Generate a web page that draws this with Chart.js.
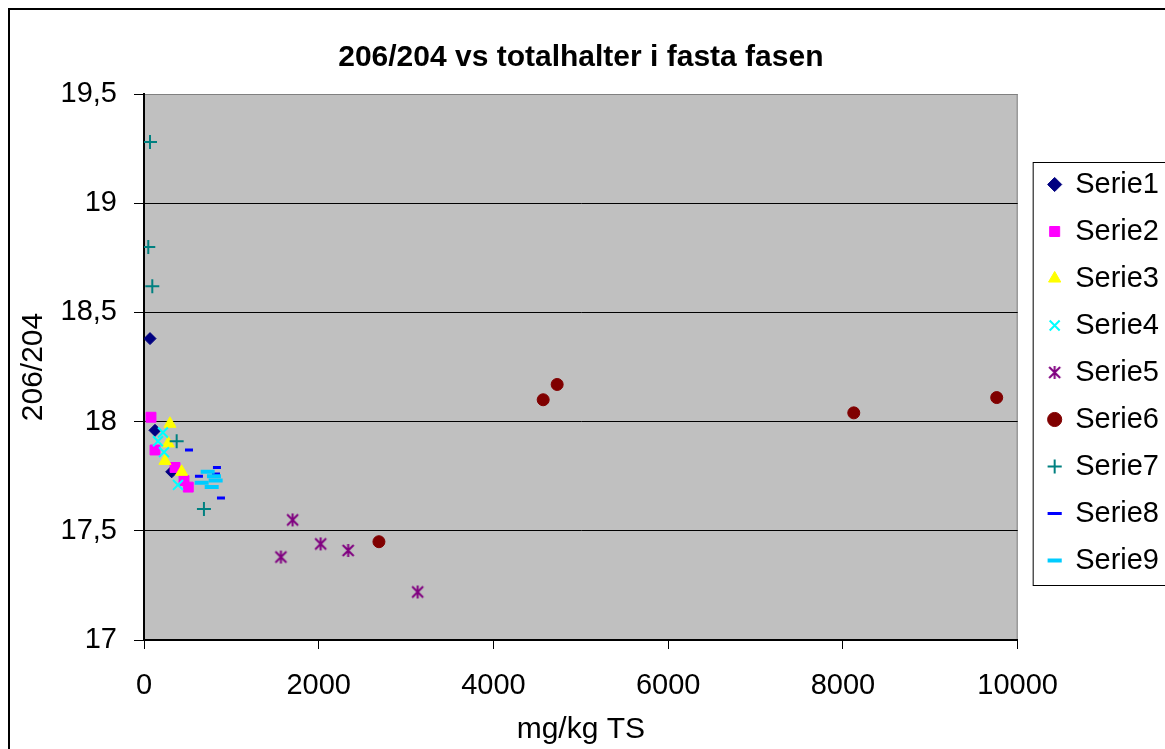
<!DOCTYPE html>
<html>
<head>
<meta charset="utf-8">
<script src="https://cdn.jsdelivr.net/npm/chart.js@4.4.0/dist/chart.umd.min.js"></script>
<style>
body { margin: 0; background: #fff; overflow: hidden; }
#wrap { position: absolute; left: 0; top: 0; }
</style>
</head>
<body>
<div id="wrap"><canvas id="scatter" width="1200" height="780"></canvas></div>
<script>
// values: [mg/kg TS, 206/204]
var serie1 = [[69, 18.38], [126, 17.96], [317, 17.77]];
var serie2 = [[80, 18.02], [126, 17.87], [355, 17.79], [458, 17.73], [507, 17.70]];
var serie3 = [[297, 17.99], [278, 17.90], [240, 17.82], [431, 17.77]];
var serie4 = [[217, 17.95], [160, 17.91], [229, 17.86], [389, 17.71]];
var serie5 = [[1567, 17.38], [1701, 17.55], [2022, 17.44], [2337, 17.41], [3132, 17.22]];
var serie6 = [[2689, 17.45], [4569, 18.10], [4729, 18.17], [8124, 18.04], [9760, 18.11]];
var serie7 = [[69, 19.28], [49, 18.80], [95, 18.62], [374, 17.91], [686, 17.60]];
var serie8 = [[515, 17.87], [629, 17.75], [824, 17.76], [835, 17.79], [881, 17.65]];
var serie9 = [[660, 17.72], [729, 17.77], [775, 17.70], [801, 17.75], [820, 17.73]];

var seriesNames = ['Serie1', 'Serie2', 'Serie3', 'Serie4', 'Serie5', 'Serie6', 'Serie7', 'Serie8', 'Serie9'];
var seriesData = [serie1, serie2, serie3, serie4, serie5, serie6, serie7, serie8, serie9];
var seriesColors = ['#000080', '#ff00ff', '#ffff00', '#00ffff', '#800080', '#800000', '#008080', '#0000ff', '#00ccff'];
var seriesRadius = [6, 7, 7, 7, 7, 6, 7, 4, 7];
var seriesBorder = [1, 1, 1, 2, 2, 1, 2, 3, 4];

var yTicks = [17, 17.5, 18, 18.5, 19, 19.5];

// Excel's asterisk marker: an X with a vertical bar through it
function asterisk(color) {
    var c = document.createElement('canvas');
    c.width = 15; c.height = 15;
    var g = c.getContext('2d');
    g.strokeStyle = color;
    g.lineWidth = 2;
    g.beginPath();
    g.moveTo(7.5, 1); g.lineTo(7.5, 14);
    g.moveTo(2, 2); g.lineTo(13, 13);
    g.moveTo(13, 2); g.lineTo(2, 13);
    g.stroke();
    return c;
}

var seriesStyles = ['rectRot', 'rect', 'triangle', 'crossRot', asterisk('#800080'), 'circle', 'cross', 'line', 'line'];

Chart.defaults.font.family = '"Liberation Sans", Arial, sans-serif';
Chart.defaults.color = '#000';

var frame = {
    id: 'frame',
    beforeDraw: function (chart) {
        var ctx = chart.ctx, a = chart.chartArea;
        ctx.save();
        ctx.strokeStyle = '#000';
        ctx.lineWidth = 2;
        ctx.strokeRect(9, 9, chart.width + 20, chart.height + 20);
        ctx.fillStyle = '#c0c0c0';
        ctx.fillRect(a.left, a.top, a.right - a.left, a.bottom - a.top);
        ctx.strokeStyle = '#808080';
        ctx.lineWidth = 1;
        ctx.strokeRect(a.left + 0.5, a.top + 0.5, a.right - a.left - 1, a.bottom - a.top);
        ctx.restore();
    },
    afterLayout: function (chart) {
        // legend sits a little away from the plot, like the Excel one
        var lg = chart.legend;
        var w = lg.width;
        lg.left = chart.chartArea.right + 13;
        lg.right = lg.left + w;
        lg.top = chart.chartArea.top + 58;
    },
    afterDraw: function (chart) {
        var ctx = chart.ctx, lg = chart.legend;
        var boxes = lg.legendHitBoxes;
        if (!boxes || !boxes.length) return;
        var last = boxes[boxes.length - 1];
        var top = boxes[0].top - 8;
        var bottom = last.top + last.height + 10;
        ctx.save();
        ctx.strokeStyle = '#000';
        ctx.lineWidth = 1;
        ctx.strokeRect(lg.left + 2.5, top + 0.5, 400, bottom - top);
        ctx.restore();
    }
};

var datasets = seriesNames.map(function (name, i) {
    return {
        label: name,
        data: seriesData[i].map(function (p) { return {x: p[0], y: p[1]}; }),
        pointStyle: seriesStyles[i],
        pointRadius: seriesRadius[i],
        pointHoverRadius: seriesRadius[i],
        backgroundColor: seriesColors[i],
        borderColor: seriesColors[i],
        borderWidth: seriesBorder[i],
        order: seriesNames.length - i
    };
});

var ctx = document.getElementById('scatter').getContext('2d');
var chart = new Chart(ctx, {
    type: 'scatter',
    data: { datasets: datasets },
    plugins: [frame],
    options: {
        responsive: false,
        animation: false,
        devicePixelRatio: 1,
        layout: { padding: { left: 12, top: 10, right: 44, bottom: 0 } },
        plugins: {
            tooltip: { enabled: false },
            title: {
                display: true,
                text: '206/204 vs totalhalter i fasta fasen',
                fullSize: false,
                font: { size: 30, weight: 'bold' },
                padding: { top: 30, bottom: 18 }
            },
            legend: {
                position: 'right',
                align: 'start',
                fullSize: false,
                labels: {
                    usePointStyle: true,
                    boxWidth: 12,
                    boxHeight: 10,
                    padding: 18,
                    font: { size: 29 },
                    sort: function (a, b) { return a.datasetIndex - b.datasetIndex; }
                }
            }
        },
        scales: {
            x: {
                type: 'linear',
                min: 0,
                max: 10000,
                afterFit: function (s) { s.height = 140; },
                ticks: {
                    stepSize: 2000,
                    padding: 20,
                    font: { size: 29 },
                    maxRotation: 0,
                    callback: function (v) { return String(v); }
                },
                grid: { drawOnChartArea: false, tickLength: 9, color: '#000' },
                border: { color: '#000', width: 2 },
                title: { display: true, text: 'mg/kg TS', font: { size: 30 }, padding: 32 }
            },
            y: {
                min: 17,
                max: 19.5,
                afterFit: function (s) { s.width = 132; },
                afterBuildTicks: function (s) { s.ticks = yTicks.map(function (v) { return {value: v}; }); },
                ticks: {
                    padding: 17,
                    font: { size: 29 },
                    callback: function (v) { return String(v).replace('.', ','); }
                },
                grid: {
                    tickLength: 10,
                    tickColor: '#000',
                    color: function (c) { return c.tick && c.tick.value === 19.5 ? '#808080' : '#000'; }
                },
                border: { color: '#000', width: 2 },
                title: { display: true, text: '206/204', font: { size: 30 }, padding: 4 }
            }
        }
    }
});
</script>
</body>
</html>
